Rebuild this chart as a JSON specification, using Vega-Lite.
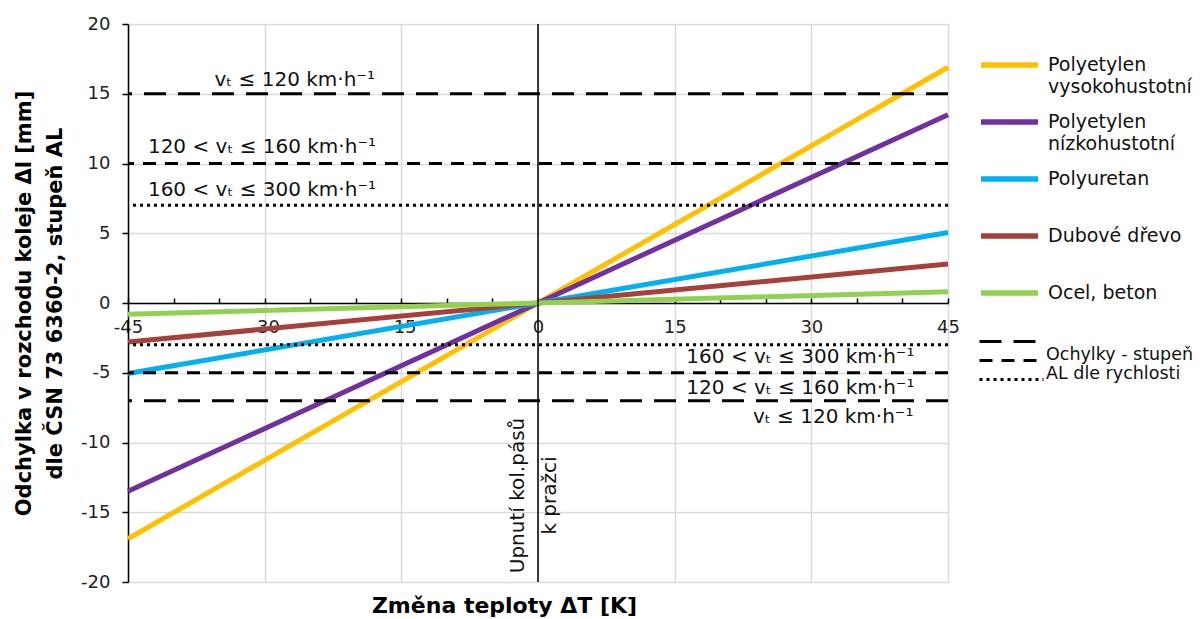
{
  "$schema": "https://vega.github.io/schema/vega-lite/v6.json",
  "width": 820,
  "height": 558,
  "autosize": {"type": "none"},
  "padding": {"left": 128, "top": 24, "right": 252, "bottom": 37},
  "background": "white",
  "config": {
    "font": "DejaVu Sans",
    "view": {"stroke": null},
    "legend": {"labelFont": "DejaVu Sans", "labelFontSize": 19, "labelColor": "#111", "labelLimit": 400}
  },
  "datasets": {
    "series": [
      {"dT": -45, "dl": -16.9, "material": "Polyetylen vysokohustotní"},
      {"dT": 0, "dl": 0, "material": "Polyetylen vysokohustotní"},
      {"dT": 45, "dl": 16.9, "material": "Polyetylen vysokohustotní"},
      {"dT": -45, "dl": -13.5, "material": "Polyetylen nízkohustotní"},
      {"dT": 0, "dl": 0, "material": "Polyetylen nízkohustotní"},
      {"dT": 45, "dl": 13.5, "material": "Polyetylen nízkohustotní"},
      {"dT": -45, "dl": -5.05, "material": "Polyuretan"},
      {"dT": 0, "dl": 0, "material": "Polyuretan"},
      {"dT": 45, "dl": 5.05, "material": "Polyuretan"},
      {"dT": -45, "dl": -2.8, "material": "Dubové dřevo"},
      {"dT": 0, "dl": 0, "material": "Dubové dřevo"},
      {"dT": 45, "dl": 2.8, "material": "Dubové dřevo"},
      {"dT": -45, "dl": -0.8, "material": "Ocel, beton"},
      {"dT": 0, "dl": 0, "material": "Ocel, beton"},
      {"dT": 45, "dl": 0.8, "material": "Ocel, beton"}
    ],
    "limits": [
      {"dl": 15, "kind": "long"},
      {"dl": 10, "kind": "medium"},
      {"dl": 7, "kind": "dot"},
      {"dl": -3, "kind": "dot"},
      {"dl": -5, "kind": "medium"},
      {"dl": -7, "kind": "long"}
    ],
    "zero": [{"dT": 0}],
    "notes": [
      {"dT": -26.7, "dl": 16.0, "t": "vₜ ≤ 120 km·h⁻¹"},
      {"dT": -30.3, "dl": 11.2, "t": "120 < vₜ ≤ 160 km·h⁻¹"},
      {"dT": -30.3, "dl": 8.1, "t": "160 < vₜ ≤ 300 km·h⁻¹"},
      {"dT": 28.8, "dl": -3.9, "t": "160 < vₜ ≤ 300 km·h⁻¹"},
      {"dT": 28.8, "dl": -6.1, "t": "120 < vₜ ≤ 160 km·h⁻¹"},
      {"dT": 32.4, "dl": -8.2, "t": "vₜ ≤ 120 km·h⁻¹"}
    ],
    "vnotes": [
      {"dT": -2.2, "dl": -13.8, "t": "Upnutí kol.pásů"},
      {"dT": 1.3, "dl": -13.8, "t": "k pražci"}
    ]
  },
  "layer": [
    {
      "data": {"name": "series"},
      "mark": {"type": "line", "strokeWidth": 5, "strokeCap": "butt"},
      "encoding": {
        "x": {
          "field": "dT", "type": "quantitative",
          "scale": {"domain": [-45, 45], "nice": false, "zero": false},
          "axis": {
            "values": [-45, -40, -35, -30, -25, -20, -15, -10, -5, 0, 5, 10, 15, 20, 25, 30, 35, 40, 45],
            "labelExpr": "datum.value % 15 == 0 ? '' + datum.value : ''",
            "offset": -279,
            "labelFontSize": 18, "labelColor": "#222", "labelPadding": 20,
            "labelFlush": false, "labelOverlap": false, "labelBound": false,
            "domainColor": "black", "domainWidth": 1.5,
            "ticks": true, "tickSize": -5, "tickColor": "black", "tickWidth": 1.5,
            "grid": true, "gridColor": "#d9d9d9", "gridWidth": 1.5,
            "gridOpacity": {"condition": {"test": "datum.value % 15 != 0", "value": 0}, "value": 1},
            "title": "Změna teploty ΔT [K]",
            "titleFontSize": 22, "titleFontWeight": "bold", "titleColor": "black",
            "titleY": 302, "titleBaseline": "middle", "titleX": 376
          }
        },
        "y": {
          "field": "dl", "type": "quantitative",
          "scale": {"domain": [-20, 20], "nice": false},
          "axis": {
            "values": [-20, -15, -10, -5, 0, 5, 10, 15, 20],
            "labelExpr": "'' + datum.value",
            "labelFontSize": 18, "labelColor": "#222", "labelPadding": 12,
            "domainColor": "black", "domainWidth": 1.5,
            "tickSize": 6, "tickColor": "black", "tickWidth": 1.5,
            "grid": true, "gridColor": "#d9d9d9", "gridWidth": 1.5,
            "title": ["Odchylka v rozchodu koleje Δl [mm]", "dle ČSN 73 6360-2, stupeň AL"],
            "titleFontSize": 21, "titleFontWeight": "bold", "titleColor": "black",
            "titleLineHeight": 31, "titlePadding": 15
          }
        },
        "color": {
          "field": "material", "type": "nominal",
          "scale": {
            "domain": ["Polyetylen vysokohustotní", "Polyetylen nízkohustotní", "Polyuretan", "Dubové dřevo", "Ocel, beton"],
            "range": ["#FFC000", "#7030A0", "#00B0F0", "#A5403A", "#92D050"]
          },
          "legend": {
            "orient": "none", "legendX": 850, "legendY": 30,
            "title": null, "padding": 0, "clipHeight": 22,
            "symbolType": "stroke", "symbolSize": 3250, "symbolStrokeWidth": 5.5,
            "labelOffset": 7, "rowPadding": 14, "labelBaseline": "top",
            "labelExpr": "indexof(datum.label, 'Polyetylen') == 0 ? split(datum.label, ' ') : [datum.label, ' ']",
            "encode": {"labels": {"update": {"dy": {"value": -9}, "lineHeight": {"value": 22}}}}
          }
        }
      }
    },
    {
      "data": {"name": "limits"},
      "mark": {"type": "rule", "color": "black", "strokeWidth": 3},
      "encoding": {
        "y": {"field": "dl", "type": "quantitative"},
        "strokeDash": {
          "field": "kind", "type": "nominal",
          "scale": {"domain": ["long", "medium", "dot"], "range": [[22, 12], [13, 9], [3, 4]]},
          "legend": {
            "orient": "none", "legendX": 850, "legendY": 309,
            "title": null, "padding": 0, "clipHeight": 17,
            "symbolType": "stroke", "symbolSize": 4096, "symbolStrokeWidth": 3, "symbolStrokeColor": "black",
            "labelOffset": 1, "rowPadding": -5, "labelFontSize": 17.5,
            "labelExpr": "datum.label == 'long' ? ' ' : datum.label == 'medium' ? 'Ochylky - stupeň' : 'AL dle rychlosti'",
            "encode": {"labels": {"update": {"dy": {"value": -6}}}}
          }
        }
      }
    },
    {
      "data": {"name": "zero"},
      "mark": {"type": "rule", "color": "black", "strokeWidth": 1.5},
      "encoding": {"x": {"field": "dT", "type": "quantitative"}}
    },
    {
      "data": {"name": "notes"},
      "mark": {"type": "text", "fontSize": 20, "color": "#111", "align": "center", "baseline": "middle"},
      "encoding": {
        "x": {"field": "dT", "type": "quantitative"},
        "y": {"field": "dl", "type": "quantitative"},
        "text": {"field": "t"}
      }
    },
    {
      "data": {"name": "vnotes"},
      "mark": {"type": "text", "fontSize": 20, "color": "#111", "align": "center", "baseline": "middle", "angle": 270},
      "encoding": {
        "x": {"field": "dT", "type": "quantitative"},
        "y": {"field": "dl", "type": "quantitative"},
        "text": {"field": "t"}
      }
    }
  ]
}
